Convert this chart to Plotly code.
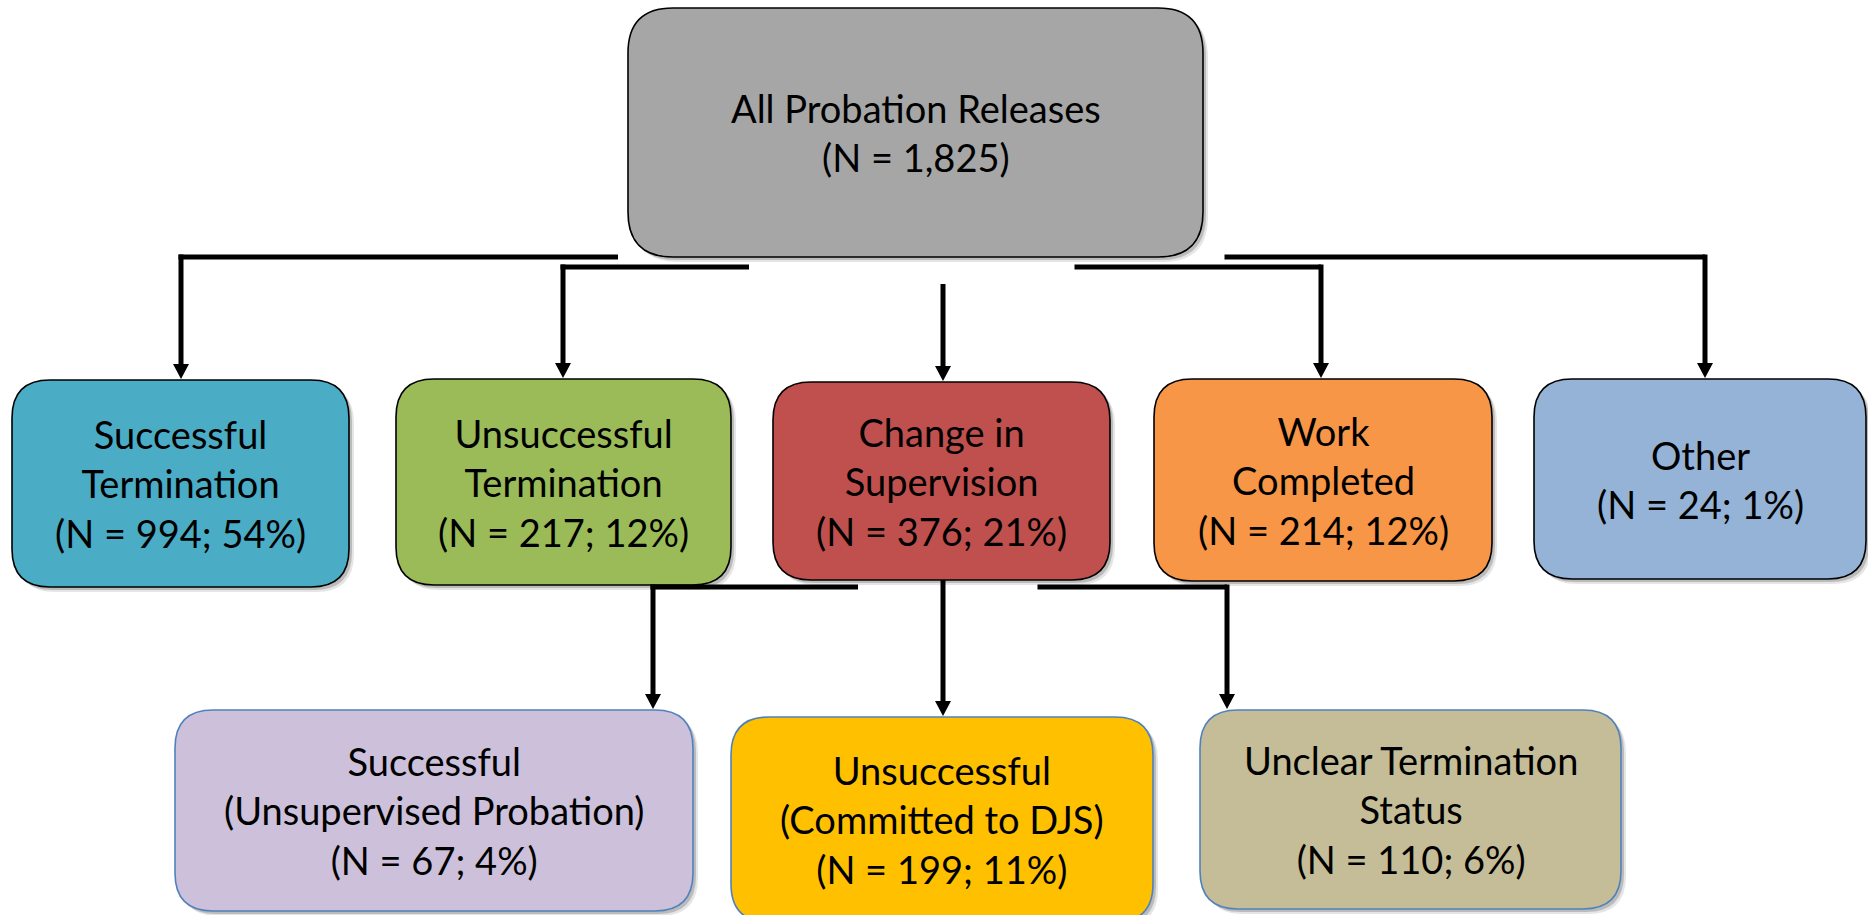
import plotly.graph_objects as go

# ---------------- data ----------------
top_label = "All Probation Releases"
top_n = 1825

mid_labels = ["Successful<br>Termination", "Unsuccessful<br>Termination",
              "Change in<br>Supervision", "Work<br>Completed", "Other"]
mid_n = [994, 217, 376, 214, 24]
mid_pct = [54, 12, 21, 12, 1]

sub_labels = ["Successful<br>(Unsupervised Probation)",
              "Unsuccessful<br>(Committed to DJS)",
              "Unclear Termination<br>Status"]
sub_n = [67, 199, 110]
sub_pct = [4, 11, 6]

# ---------------- layout / style ----------------
W, H = 1868, 915
FONT = "Lato"
FS = 38

top_color = "#a6a6a6"
mid_colors = ["#4bacc6", "#9bbb59", "#c0504d", "#f79646", "#95b3d7"]
sub_colors = ["#ccc0da", "#ffc000", "#c4bd97"]

top_box = (628, 8, 1203, 257)
mid_boxes = [(12, 380, 349, 587), (396, 379, 731, 585), (773, 382, 1110, 580),
             (1154, 379, 1492, 581), (1534, 379, 1866, 579)]
sub_boxes = [(175, 710, 693, 911), (731, 717, 1153, 922), (1200, 710, 1621, 909)]

# connectors: (bar_y, bar_x_from, bar_x_to, arrow_x, start_y, target_top)
mid_conn = [(257, 181, 618, 181, 257, 379),
            (267, 563, 749, 563, 267, 378),
            (None, None, None, 943, 284, 381),
            (267, 1077, 1321, 1321, 267, 378),
            (257, 1227, 1705, 1705, 257, 378)]
sub_conn = [(587, 653, 858, 653, 587, 709),
            (None, None, None, 943, 580, 716),
            (587, 1040, 1227, 1227, 587, 709)]

LW = 5      # connector line width
AW = 8      # arrowhead half width
AH = 15     # arrowhead height


def rrect(x0, y0, x1, y1, r):
    return (f"M {x0+r},{y0} L {x1-r},{y0} Q {x1},{y0} {x1},{y0+r} "
            f"L {x1},{y1-r} Q {x1},{y1} {x1-r},{y1} L {x0+r},{y1} "
            f"Q {x0},{y1} {x0},{y1-r} L {x0},{y0+r} Q {x0},{y0} {x0+r},{y0} Z")


shapes = []
annotations = []


def add_box(box, color, line_color, r, text):
    x0, y0, x1, y1 = box
    for off, op in [(5, 0.10), (3, 0.18)]:
        shapes.append(dict(type="path", path=rrect(x0 + off, y0 + off, x1 + off, y1 + off, r),
                           fillcolor=f"rgba(0,0,0,{op})", line=dict(width=0), layer="below"))
    shapes.append(dict(type="path", path=rrect(x0, y0, x1, y1, r), fillcolor=color,
                       line=dict(color=line_color, width=1.6), layer="above"))
    annotations.append(dict(x=(x0 + x1) / 2, y=(y0 + y1) / 2, xref="x", yref="y",
                            text=text, showarrow=False, align="center",
                            xanchor="center", yanchor="middle",
                            font=dict(family=FONT, size=FS, color="black")))


def add_conn(c):
    bar_y, bx0, bx1, ax, sy, ty = c
    if bar_y is not None:
        shapes.append(dict(type="line", x0=bx0 - LW / 2, x1=bx1, y0=bar_y, y1=bar_y,
                           line=dict(color="black", width=LW)))
    shapes.append(dict(type="line", x0=ax, x1=ax, y0=sy - (LW / 2 if bar_y else 0), y1=ty - AH + 2,
                       line=dict(color="black", width=LW)))
    shapes.append(dict(type="path",
                       path=f"M {ax-AW},{ty-AH} L {ax+AW},{ty-AH} L {ax},{ty} Z",
                       fillcolor="black", line=dict(width=0)))


add_box(top_box, top_color, "black", 45,
        f"{top_label}<br>(N = {top_n:,})")
for box, col, lab, n, p in zip(mid_boxes, mid_colors, mid_labels, mid_n, mid_pct):
    add_box(box, col, "black", 38, f"{lab}<br>(N = {n:,}; {p}%)")
for box, col, lab, n, p in zip(sub_boxes, sub_colors, sub_labels, sub_n, sub_pct):
    add_box(box, col, "#4f81bd", 38, f"{lab}<br>(N = {n:,}; {p}%)")
for c in mid_conn + sub_conn:
    add_conn(c)

fig = go.Figure()
fig.add_trace(go.Scatter(x=[0, W], y=[0, H], mode="markers",
                         marker=dict(opacity=0), hoverinfo="skip", showlegend=False))
fig.update_layout(
    width=W, height=H, margin=dict(l=0, r=0, t=0, b=0),
    paper_bgcolor="white", plot_bgcolor="white",
    xaxis=dict(range=[0, W], visible=False, fixedrange=True),
    yaxis=dict(range=[H, 0], visible=False, fixedrange=True),
    shapes=shapes, annotations=annotations, showlegend=False,
)
fig.write_html("out.html",
               config={"displayModeBar": False},
               post_script="document.body.style.margin='0';document.body.style.overflow='hidden';")
